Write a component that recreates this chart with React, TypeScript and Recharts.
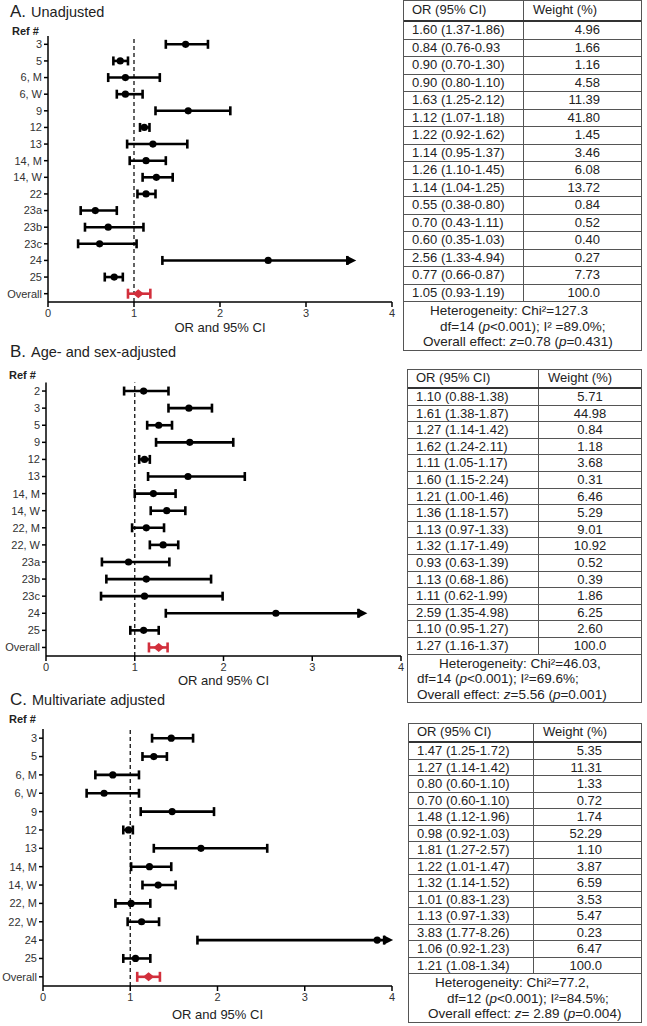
import React from "react";
import { ScatterChart, Scatter, XAxis, YAxis, ErrorBar, ReferenceLine } from "recharts";

const FONT = '"Liberation Sans", Arial, Helvetica, sans-serif';
const RED = "#d22f3c";
const INK = "#222";
const LINE = "#555";

// ---------- A. Unadjusted ----------
const refsA = ["3", "5", "6, M", "6, W", "9", "12", "13", "14, M", "14, W", "22", "23a", "23b", "23c", "24", "25", "Overall"];
const orA = [1.6, 0.84, 0.9, 0.9, 1.63, 1.12, 1.22, 1.14, 1.26, 1.14, 0.55, 0.7, 0.6, 2.56, 0.77, 1.05];
const loA = [1.37, 0.76, 0.7, 0.8, 1.25, 1.07, 0.92, 0.95, 1.1, 1.04, 0.38, 0.43, 0.35, 1.33, 0.66, 0.93];
const hiA = [1.86, 0.93, 1.3, 1.1, 2.12, 1.18, 1.62, 1.37, 1.45, 1.25, 0.8, 1.11, 1.03, 4.94, 0.87, 1.19];
const ciTextA = [
  "1.60 (1.37-1.86)", "0.84 (0.76-0.93", "0.90 (0.70-1.30)", "0.90 (0.80-1.10)", "1.63 (1.25-2.12)",
  "1.12 (1.07-1.18)", "1.22 (0.92-1.62)", "1.14 (0.95-1.37)", "1.26 (1.10-1.45)", "1.14 (1.04-1.25)",
  "0.55 (0.38-0.80)", "0.70 (0.43-1.11)", "0.60 (0.35-1.03)", "2.56 (1.33-4.94)", "0.77 (0.66-0.87)",
  "1.05 (0.93-1.19)",
];
const weightA = ["4.96", "1.66", "1.16", "4.58", "11.39", "41.80", "1.45", "3.46", "6.08", "13.72", "0.84", "0.52", "0.40", "0.27", "7.73", "100.0"];
const arrowA = 3.48; // open-ended CI is cut here, arrowhead drawn beyond
const footerA = [
  <>Heterogeneity: Chi²=127.3</>,
  <>df=14 (<i>p</i>&lt;0.001); I² =89.0%;</>,
  <>Overall effect: <i>z</i>=0.78 (<i>p</i>=0.431)</>,
];

// ---------- B. Age- and sex-adjusted ----------
const refsB = ["2", "3", "5", "9", "12", "13", "14, M", "14, W", "22, M", "22, W", "23a", "23b", "23c", "24", "25", "Overall"];
const orB = [1.1, 1.61, 1.27, 1.62, 1.11, 1.6, 1.21, 1.36, 1.13, 1.32, 0.93, 1.13, 1.11, 2.59, 1.1, 1.27];
const loB = [0.88, 1.38, 1.14, 1.24, 1.05, 1.15, 1.0, 1.18, 0.97, 1.17, 0.63, 0.68, 0.62, 1.35, 0.95, 1.16];
const hiB = [1.38, 1.87, 1.42, 2.11, 1.17, 2.24, 1.46, 1.57, 1.33, 1.49, 1.39, 1.86, 1.99, 4.98, 1.27, 1.37];
const ciTextB = [
  "1.10 (0.88-1.38)", "1.61 (1.38-1.87)", "1.27 (1.14-1.42)", "1.62 (1.24-2.11)", "1.11 (1.05-1.17)",
  "1.60 (1.15-2.24)", "1.21 (1.00-1.46)", "1.36 (1.18-1.57)", "1.13 (0.97-1.33)", "1.32 (1.17-1.49)",
  "0.93 (0.63-1.39)", "1.13 (0.68-1.86)", "1.11 (0.62-1.99)", "2.59 (1.35-4.98)", "1.10 (0.95-1.27)",
  "1.27 (1.16-1.37)",
];
const weightB = ["5.71", "44.98", "0.84", "1.18", "3.68", "0.31", "6.46", "5.29", "9.01", "10.92", "0.52", "0.39", "1.86", "6.25", "2.60", "100.0"];
const arrowB = 3.52;
const footerB = [
  <>Heterogeneity: Chi²=46.03,</>,
  <>df=14 (<i>p</i>&lt;0.001); I²=69.6%;</>,
  <>Overall effect: <i>z</i>=5.56 (<i>p</i>=0.001)</>,
];

// ---------- C. Multivariate adjusted ----------
const refsC = ["3", "5", "6, M", "6, W", "9", "12", "13", "14, M", "14, W", "22, M", "22, W", "24", "25", "Overall"];
const orC = [1.47, 1.27, 0.8, 0.7, 1.48, 0.98, 1.81, 1.22, 1.32, 1.01, 1.13, 3.83, 1.06, 1.21];
const loC = [1.25, 1.14, 0.6, 0.5, 1.12, 0.92, 1.27, 1.01, 1.14, 0.83, 0.97, 1.77, 0.92, 1.08];
const hiC = [1.72, 1.42, 1.1, 1.1, 1.96, 1.03, 2.57, 1.47, 1.52, 1.23, 1.33, 8.26, 1.23, 1.34];
const ciTextC = [
  "1.47 (1.25-1.72)", "1.27 (1.14-1.42)", "0.80 (0.60-1.10)", "0.70 (0.60-1.10)", "1.48 (1.12-1.96)",
  "0.98 (0.92-1.03)", "1.81 (1.27-2.57)", "1.22 (1.01-1.47)", "1.32 (1.14-1.52)", "1.01 (0.83-1.23)",
  "1.13 (0.97-1.33)", "3.83 (1.77-8.26)", "1.06 (0.92-1.23)", "1.21 (1.08-1.34)",
];
const weightC = ["5.35", "11.31", "1.33", "0.72", "1.74", "52.29", "1.10", "3.87", "6.59", "3.53", "5.47", "0.23", "6.47", "100.0"];
const arrowC = 3.91;
const footerC = [
  <>Heterogeneity: Chi²=77.2,</>,
  <>df=12 (<i>p</i>&lt;0.001); I²=84.5%;</>,
  <>Overall effect: <i>z</i>= 2.89 (<i>p</i>=0.004)</>,
];

const xTicks = [0, 1, 2, 3, 4];

const Dot = (p: any) => <circle cx={p.cx} cy={p.cy} r={3.6} fill="#000" />;
const DiamondMark = (p: any) => (
  <path d={`M${p.cx - 5.5},${p.cy} L${p.cx},${p.cy - 4.5} L${p.cx + 5.5},${p.cy} L${p.cx},${p.cy + 4.5} Z`} fill={RED} />
);
const ArrowHead = (p: any) => (
  <path d={`M${p.cx},${p.cy - 4.5} L${p.cx + 9},${p.cy} L${p.cx},${p.cy + 4.5} Z`} fill="#000" />
);

type ForestProps = {
  refs: string[];
  or: number[];
  lo: number[];
  hi: number[];
  arrowAt: number;
  width: number;
  height: number;
  top: number;
  axisHeight: number;
  yWidth: number;
};

function Forest(p: ForestProps) {
  const rows = p.refs.map((ref, i) => {
    const upper = Math.min(p.hi[i], p.arrowAt);
    return { ref, y: i, x: p.or[i], err: [p.or[i] - p.lo[i], upper - p.or[i]], open: p.hi[i] > p.arrowAt };
  });
  const studies = rows.filter((r) => r.ref !== "Overall");
  const overall = rows.filter((r) => r.ref === "Overall");
  const arrows = rows.filter((r) => r.open).map((r) => ({ x: p.arrowAt, y: r.y }));
  const n = p.refs.length;

  return (
    <ScatterChart width={p.width} height={p.height + 6} margin={{ top: p.top, right: 8, bottom: 6, left: 0 }}>
      <XAxis
        type="number"
        dataKey="x"
        domain={[0, 4]}
        ticks={xTicks}
        interval={0}
        height={p.axisHeight}
        stroke="#000"
        strokeWidth={1.5}
        tickSize={5}
        tickMargin={2}
        tick={{ fontSize: 11, fill: "#333", fontFamily: FONT }}
        label={{ value: "OR and 95% CI", position: "insideBottom", offset: 0, fontSize: 13, fill: INK, fontFamily: FONT }}
      />
      <YAxis
        type="number"
        dataKey="y"
        domain={[-0.5, n - 0.5]}
        ticks={rows.map((r) => r.y)}
        interval={0}
        reversed
        width={p.yWidth}
        stroke="#000"
        strokeWidth={1.5}
        tickSize={4}
        tickMargin={2}
        tickFormatter={(v: number) => p.refs[v] ?? ""}
        tick={{ fontSize: 11, fill: "#333", fontFamily: FONT }}
      />
      <ReferenceLine x={1} stroke="#111" strokeWidth={1.3} strokeDasharray="4 3" />
      <Scatter data={studies} shape={Dot} isAnimationActive={false}>
        <ErrorBar dataKey="err" direction="x" width={4.5} stroke="#000" strokeWidth={2.6} />
      </Scatter>
      <Scatter data={arrows} shape={ArrowHead} isAnimationActive={false} />
      <Scatter data={overall} shape={DiamondMark} isAnimationActive={false}>
        <ErrorBar dataKey="err" direction="x" width={5} stroke={RED} strokeWidth={2.6} />
      </Scatter>
    </ScatterChart>
  );
}

type TableProps = {
  left: number;
  top: number;
  width: number;
  col1: number;
  headerH: number;
  rowH: number;
  footerH: number;
  ci: string[];
  weights: string[];
  footer: React.ReactNode[];
  footerIndent: number[];
  align: "right" | "center";
  padR: number;
};

function CiTable(t: TableProps) {
  const box: React.CSSProperties = { boxSizing: "border-box", whiteSpace: "nowrap" };
  return (
    <div
      style={{
        position: "absolute",
        left: t.left,
        top: t.top,
        width: t.width,
        boxSizing: "border-box",
        border: `1px solid ${LINE}`,
        background: "#fff",
        fontFamily: FONT,
        fontSize: 13,
        color: INK,
      }}
    >
      <div style={{ ...box, display: "flex", height: t.headerH, borderBottom: "2.5px solid #333", lineHeight: `${t.headerH - 3}px` }}>
        <div style={{ ...box, width: t.col1, borderRight: `1px solid ${LINE}`, paddingLeft: 8 }}>OR (95% CI)</div>
        <div style={{ ...box, flex: 1, paddingLeft: 9 }}>Weight (%)</div>
      </div>
      {t.ci.map((c, i) => (
        <div key={i} style={{ ...box, display: "flex", height: t.rowH, borderBottom: `1px solid ${LINE}`, lineHeight: `${t.rowH - 1}px` }}>
          <div style={{ ...box, width: t.col1, borderRight: `1px solid ${LINE}`, paddingLeft: 8 }}>{c}</div>
          <div style={{ ...box, flex: 1, textAlign: t.align, paddingRight: t.align === "right" ? t.padR : 0 }}>{t.weights[i]}</div>
        </div>
      ))}
      <div style={{ ...box, height: t.footerH, lineHeight: "15.5px", paddingTop: 1, fontSize: 13.5 }}>
        {t.footer.map((f, i) => (
          <div key={i} style={{ paddingLeft: t.footerIndent[i] }}>{f}</div>
        ))}
      </div>
    </div>
  );
}

function Title({ x, y, letter, text }: { x: number; y: number; letter: string; text: string }) {
  return (
    <text x={x} y={y} fontFamily={FONT} fill={INK}>
      <tspan fontSize={17}>{letter}</tspan>
      <tspan fontSize={14.5} dx={5}>{text}</tspan>
    </text>
  );
}

export default function App() {
  return (
    <div style={{ position: "absolute", left: 0, top: 0, width: 647, height: 1026, background: "#fff", overflow: "hidden" }}>
      <div style={{ position: "absolute", left: 0, top: 0 }}>
        <Forest refs={refsA} or={orA} lo={loA} hi={hiA} arrowAt={arrowA} width={400} height={332} top={36} axisHeight={30} yWidth={48} />
      </div>
      <div style={{ position: "absolute", left: 0, top: 340 }}>
        <Forest refs={refsB} or={orB} lo={loB} hi={hiB} arrowAt={arrowB} width={409} height={345} top={42.5} axisHeight={29} yWidth={46} />
      </div>
      <div style={{ position: "absolute", left: 0, top: 680 }}>
        <Forest refs={refsC} or={orC} lo={loC} hi={hiC} arrowAt={arrowC} width={400} height={339} top={49} axisHeight={33} yWidth={43} />
      </div>

      <svg width={647} height={1026} style={{ position: "absolute", left: 0, top: 0, pointerEvents: "none" }}>
        <Title x={10} y={17} letter="A." text="Unadjusted" />
        <Title x={10} y={357} letter="B." text="Age- and sex-adjusted" />
        <Title x={10} y={705} letter="C." text="Multivariate adjusted" />
        <text x={12} y={34.5} fontFamily={FONT} fontSize={11} fontWeight="bold" fill={INK}>Ref #</text>
        <text x={9} y={379} fontFamily={FONT} fontSize={11} fontWeight="bold" fill={INK}>Ref #</text>
        <text x={9} y={723} fontFamily={FONT} fontSize={11} fontWeight="bold" fill={INK}>Ref #</text>
      </svg>

      <CiTable left={403} top={0} width={239} col1={120} headerH={21} rowH={17.5} footerH={48} ci={ciTextA} weights={weightA} footer={footerA} footerIndent={[26, 36, 19]} align="right" padR={41} />
      <CiTable left={407} top={369} width={235} col1={131} headerH={19} rowH={16.6} footerH={47.4} ci={ciTextB} weights={weightB} footer={footerB} footerIndent={[31, 9, 9]} align="center" padR={0} />
      <CiTable left={408} top={723} width={234} col1={125} headerH={19} rowH={16.5} footerH={48} ci={ciTextC} weights={weightC} footer={footerC} footerIndent={[26, 38, 19]} align="right" padR={39} />
    </div>
  );
}
